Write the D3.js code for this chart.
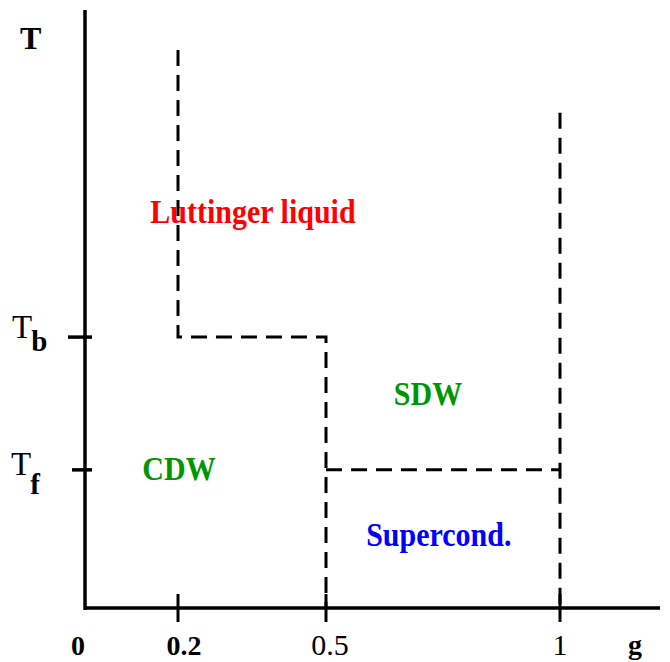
<!DOCTYPE html>
<html>
<head>
<meta charset="utf-8">
<script src="https://cdn.jsdelivr.net/npm/d3@7"></script>
<style>
  html, body { margin: 0; padding: 0; background: #fff; }
  svg text { font-family: "Liberation Serif", "Times New Roman", serif; }
</style>
</head>
<body>
<svg id="chart" width="670" height="662"></svg>
<script>
// ---- data ----
const gTicks = [0.2, 0.5, 1];
const gTickLabels = ["0", "0.2", "0.5", "1"];
const gTickLabelValues = [0, 0.2, 0.5, 1];
const tTicks = [45.3, 23.1];            // Tb, Tf
const tTickNames = ["b", "f"];           // subscripts
// phase boundaries (g, T)
const boundaryA = [[0.2, 93.3], [0.2, 45.3], [0.5, 45.3], [0.5, 0]];
const boundaryB = [[0.5, 23.1], [1, 23.1]];
const boundaryC = [[1, 82.8], [1, 0]];
const regionNames = ["Luttinger liquid", "SDW", "CDW", "Supercond."];
const regionG = [0.352, 0.718, 0.202, 0.741];
const regionT = [64.4, 33.9, 21.4, 10.4];
const regionColors = ["#ff0000", "#009600", "#009600", "#0000ff"];

// ---- scales ----
const svg = d3.select("#chart");
const x = d3.scaleLinear().domain([0, 0.2, 0.5, 1, 1.2]).range([85, 178, 326, 560, 660]);
const y = d3.scaleLinear().domain([0, 100]).range([608, 10]);

// region labels (under lines)
svg.selectAll("text.region").data(regionNames).enter().append("text")
  .attr("class", "region")
  .attr("transform", (d, i) => `translate(${x(regionG[i])},${y(regionT[i])}) scale(1,1.12)`)
  .attr("text-anchor", "middle")
  .attr("font-size", 30)
  .attr("font-weight", "bold")
  .attr("fill", (d, i) => regionColors[i])
  .text(d => d);

// dashed boundaries
const line = d3.line().x(d => x(d[0])).y(d => y(d[1]));
[boundaryA, boundaryB, boundaryC].forEach(b => {
  svg.append("path").attr("d", line(b))
    .attr("fill", "none").attr("stroke", "#000")
    .attr("stroke-width", 3).attr("stroke-dasharray", "16,9");
});

// axes lines
svg.append("line").attr("x1", x(0)).attr("x2", x(0)).attr("y1", y(100)).attr("y2", y(0) + 2)
  .attr("stroke", "#000").attr("stroke-width", 3.5);
svg.append("line").attr("x1", x(0)).attr("x2", x(1.2)).attr("y1", y(0)).attr("y2", y(0))
  .attr("stroke", "#000").attr("stroke-width", 3.5);

// x ticks
svg.selectAll("line.xt").data(gTicks).enter().append("line")
  .attr("x1", d => x(d)).attr("x2", d => x(d))
  .attr("y1", y(0) - 14).attr("y2", y(0) + 14)
  .attr("stroke", "#000").attr("stroke-width", 3);

// y ticks
svg.selectAll("line.yt").data(tTicks).enter().append("line")
  .attr("x1", (d, i) => x(0) - (i === 0 ? 17 : 13)).attr("x2", x(0) + 7)
  .attr("y1", d => y(d)).attr("y2", d => y(d))
  .attr("stroke", "#000").attr("stroke-width", 3.5);

// x tick labels
svg.selectAll("text.xl").data(gTickLabels).enter().append("text")
  .attr("x", (d, i) => x(gTickLabelValues[i]) + (i === 0 ? -7 : i === 1 ? 6 : i === 2 ? 4 : 0))
  .attr("y", 655)
  .attr("text-anchor", "middle")
  .attr("font-size", (d, i) => (i < 2 ? 28 : 30))
  .attr("font-weight", (d, i) => (i < 2) ? "bold" : "normal")
  .text(d => d);
svg.append("text").attr("x", x(1.2) - 25).attr("y", 654)
  .attr("text-anchor", "middle").attr("font-size", 28).attr("font-weight", "bold").text("g");

// y labels
svg.append("text").attr("x", 20).attr("y", 49)
  .attr("font-size", 32).attr("font-weight", "bold").text("T");
svg.selectAll("text.yl").data(tTicks).enter().append("text")
  .attr("class", "yl")
  .attr("x", (d, i) => i === 0 ? 12 : 11)
  .attr("y", d => y(d) + (d > 30 ? 1 : 5))
  .attr("font-size", 33)
  .each(function(d, i) {
    const t = d3.select(this);
    t.append("tspan").text("T");
    t.append("tspan").attr("dy", i === 0 ? 13 : 19).attr("dx", -1)
      .attr("font-size", 29).attr("font-weight", "bold").text(tTickNames[i]);
  });
</script>
</body>
</html>
